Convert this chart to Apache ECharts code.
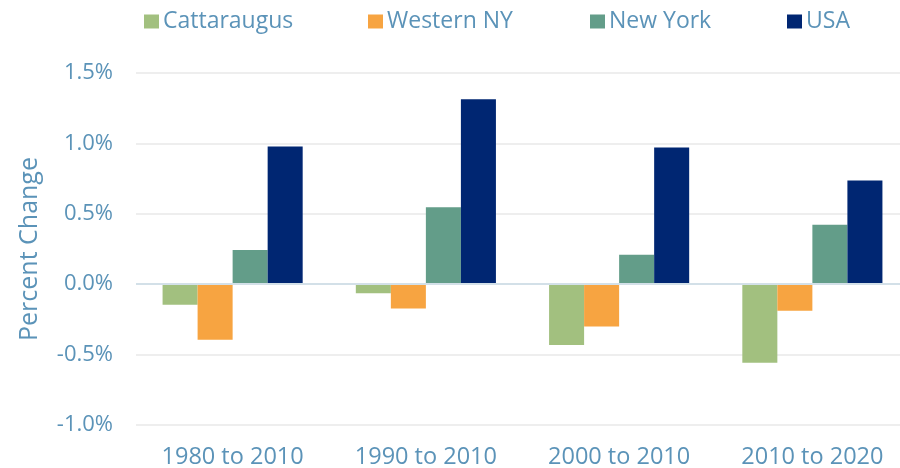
<!DOCTYPE html>
<html>
<head>
<meta charset="utf-8">
<script src="https://cdn.jsdelivr.net/npm/echarts@6/dist/echarts.min.js"></script>
<style>
  html, body { margin: 0; padding: 0; background: #fff; }
  #chart { width: 900px; height: 468px; }
</style>
</head>
<body>
<div id="chart"></div>
<script>
const periods = ['1980 to 2010', '1990 to 2010', '2000 to 2010', '2010 to 2020']
const seriesNames = ['Cattaraugus', 'Western NY', 'New York', 'USA']
const cattaraugus = [-0.146, -0.065, -0.432, -0.558]
const westernNY = [-0.395, -0.172, -0.30, -0.188]
const newYork = [0.243, 0.546, 0.21, 0.423]
const usa = [0.978, 1.314, 0.971, 0.736]

const textColor = '#5b93b8'
const font = 'Open Sans'
// left edge of each legend swatch, as in the original layout
const legendLefts = [144, 368, 590, 787]

const chart = echarts.init(document.getElementById('chart'), null, { renderer: 'canvas' })

const bar = (name, data) => ({
  name,
  type: 'bar',
  data,
  barGap: 0,
  barCategoryGap: '27.5%',
})

chart.setOption({
  animation: false,
  color: ['#a2c07f', '#f7a441', '#639d89', '#002672'],
  legend: seriesNames.map((name, i) => ({
    data: [name],
    top: 10,
    left: legendLefts[i],
    padding: 0,
    itemWidth: 15,
    itemHeight: 14,
    itemGap: 0,
    icon: 'rect',
    selectedMode: false,
    textStyle: { color: textColor, fontFamily: font, fontSize: 23, padding: [0, 0, 0, -1] },
  })),
  grid: {
    left: 136,
    right: -9,
    top: 73,
    bottom: 43,
    outerBoundsMode: 'none',
  },
  xAxis: {
    type: 'category',
    data: periods,
    axisTick: { show: false },
    axisLine: { onZero: false, show: false },
    axisLabel: { color: textColor, fontFamily: font, fontSize: 23.5, margin: 20 },
  },
  yAxis: {
    type: 'value',
    min: -1,
    max: 1.5,
    interval: 0.5,
    name: 'Percent Change',
    nameLocation: 'middle',
    nameGap: 94,
    nameTextStyle: { color: textColor, fontFamily: font, fontSize: 25 },
    axisLabel: {
      color: textColor,
      fontFamily: font,
      fontSize: 22,
      margin: 23,
      formatter: (v) => v.toFixed(1) + '%',
    },
    splitLine: { lineStyle: { color: '#eeeeee', width: 2 } },
  },
  series: [
    bar(seriesNames[0], cattaraugus),
    bar(seriesNames[1], westernNY),
    bar(seriesNames[2], newYork),
    Object.assign(bar(seriesNames[3], usa), {
      markLine: {
        silent: true,
        symbol: 'none',
        label: { show: false },
        lineStyle: { color: '#d3e0e8', width: 2, type: 'solid' },
        data: [{ yAxis: 0 }],
      },
    }),
  ],
})
</script>
</body>
</html>
